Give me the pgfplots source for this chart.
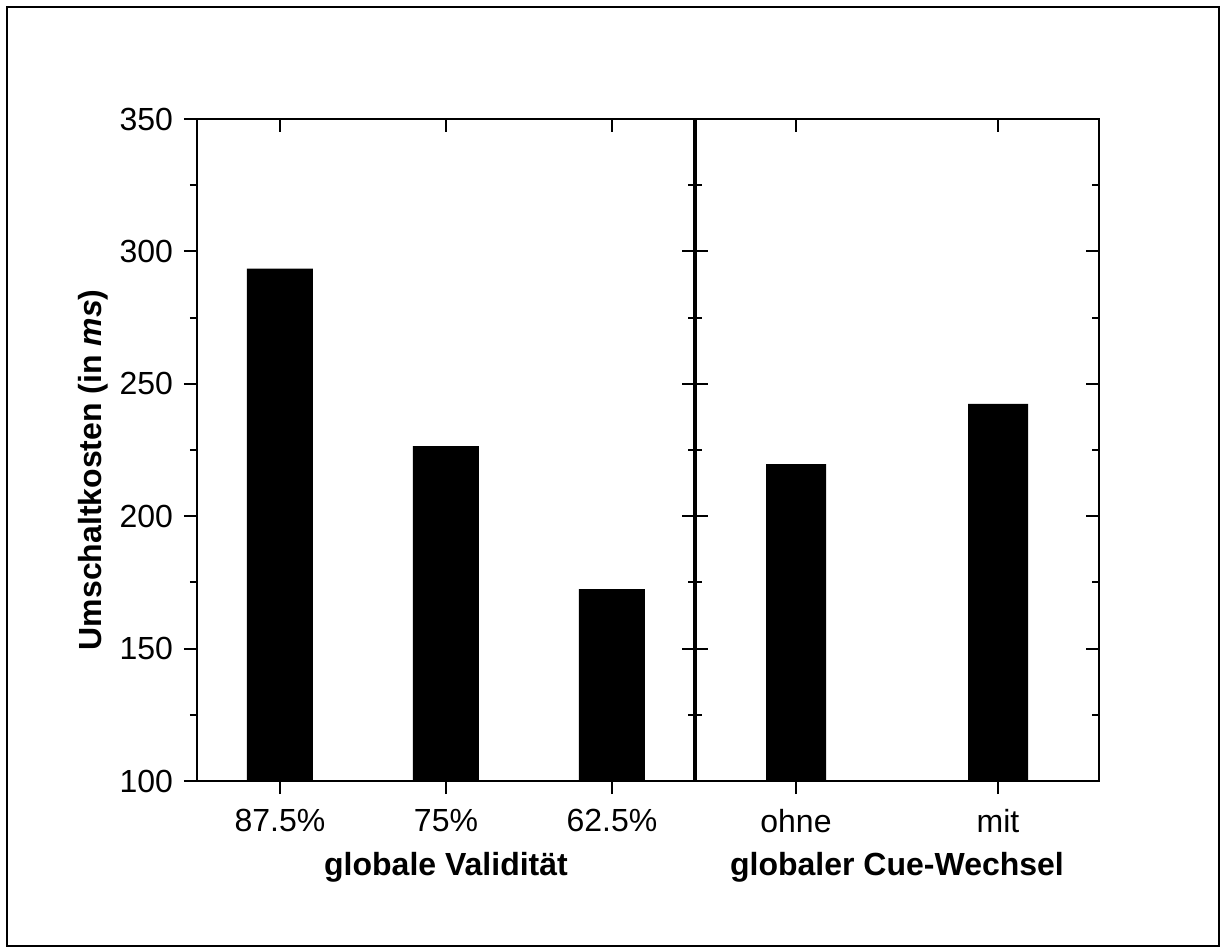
\documentclass[border=0pt]{standalone}
\usepackage{pgfplots}
\pgfplotsset{compat=1.18}
\usepackage{fontspec}
\setmainfont{Liberation Sans}
\newcommand\lbl{\fontsize{16}{19}\selectfont}
\begin{document}
\begin{tikzpicture}
\pgfplotsset{
  base/.style={scale only axis, height=331pt, ymin=100, ymax=350,
    ytick={100,150,...,350}, minor y tick num=1,
    axis line style={line width=1pt},
    every tick/.style={line width=1pt, black},
    major tick length=6.5pt, minor tick length=3.5pt,
    xmin=-0.5,
    tick label style={font=\lbl},
    xticklabel style={yshift=-4pt},
    yticklabel style={xshift=-2pt},
    label style={font=\lbl\bfseries},
    /pgf/number format/assume math mode=true,
    anchor=south west},
  over/.style={base, tick align=inside, xtick pos=top, xticklabels={}, yticklabels={}}
}
\path[use as bounding box] (-98.5pt,-85.5pt) rectangle (514pt,390.5pt);
\draw[line width=1.2pt] (-95pt,-82.5pt) rectangle (511pt,387pt);
% left panel
\begin{axis}[base, at={(0pt,0pt)}, width=249pt, xmax=2.5,
  xtick={0,1,2}, xticklabels={87.5\%,75\%,62.5\%},
  tick align=outside, xtick pos=bottom, ytick pos=left,
  ylabel={Umschaltkosten (in \textit{ms})},
  ylabel style={at={(axis description cs:-0.191,0.47)}, anchor=base},
  xlabel={globale Validität},
  xlabel style={at={(axis description cs:0.5,-0.142)}, anchor=base}]
\addplot[ybar, bar width=33pt, fill=black, draw=none] coordinates {(0,293.5) (1,226.5) (2,172.5)};
\end{axis}
\begin{axis}[over, at={(0pt,0pt)}, width=249pt, xmax=2.5, xtick={0,1,2}, ytick=\empty, minor y tick num=0]
\end{axis}
% right panel
\begin{axis}[base, at={(249pt,0pt)}, width=202pt, xmax=1.5,
  xtick={0,1}, xticklabels={ohne,mit}, yticklabels={},
  tick align=outside, xtick pos=bottom, ytick pos=left,
  xlabel={globaler Cue-Wechsel},
  xlabel style={at={(axis description cs:0.5,-0.142)}, anchor=base}]
\addplot[ybar, bar width=30pt, fill=black, draw=none] coordinates {(0,219.7) (1,242.4)};
\end{axis}
\begin{axis}[over, at={(249pt,0pt)}, width=202pt, xmax=1.5, xtick={0,1}, ytick pos=both]
\end{axis}
\draw[line width=1.7pt] (249pt,0pt) -- (249pt,331pt);
\end{tikzpicture}
\end{document}
